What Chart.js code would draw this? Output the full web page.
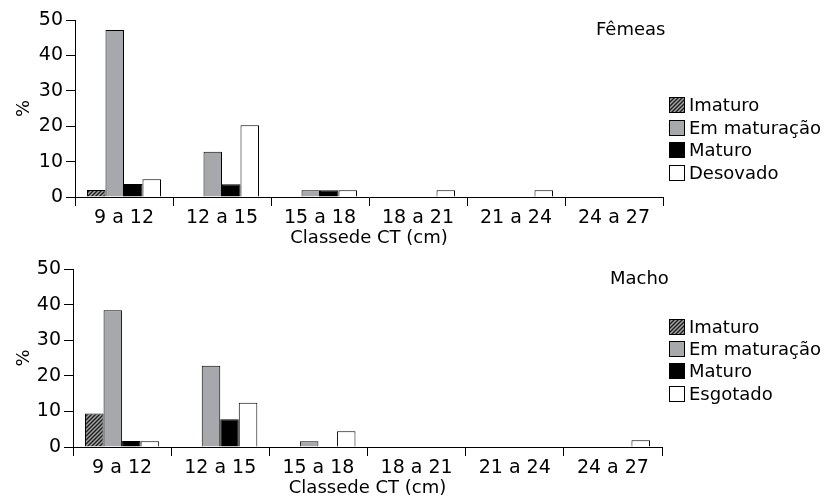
<!DOCTYPE html>
<html>
<head>
<meta charset="utf-8">
<script src="https://cdn.jsdelivr.net/npm/chart.js@4"></script>
<style>
  body { margin: 0; background: #fff; font-family: "DejaVu Sans", sans-serif; color: #000; }
  .panel { position: absolute; left: 0; width: 838px; height: 250px; }
  .panel canvas { position: absolute; left: 0; top: 0; }
  .title { position: absolute; font-size: 18px; line-height: 18px; white-space: nowrap; }
  .key { position: absolute; left: 669px; height: 16px; width: 160px; }
  .sw { position: absolute; left: 0; top: -1px; width: 14px; height: 14px; border: 1px solid #000; }
  .lab { position: absolute; left: 20px; top: -3px; font-size: 18px; line-height: 20px; white-space: nowrap; }
</style>
</head>
<body>
<div class="panel" id="p1" style="top:0"><canvas id="c1" width="838" height="250"></canvas></div>
<div class="panel" id="p2" style="top:250px"><canvas id="c2" width="838" height="250"></canvas></div>
<script>
// Length classes (CT, cm) and y-axis ticks (%)
const classes = ['9 a 12', '12 a 15', '15 a 18', '18 a 21', '21 a 24', '24 a 27'];
const yTicks = [0, 10, 20, 30, 40, 50];

// Females: maturity stage frequencies (%)
const femImaturo    = [2.0, 0, 0, 0, 0, 0];
const femMaturacao  = [47.2, 12.8, 1.9, 0, 0, 0];
const femMaturo     = [3.7, 3.6, 1.9, 0, 0, 0];
const femDesovado   = [5.0, 20.3, 1.9, 1.9, 1.9, 0];

// Males: maturity stage frequencies (%)
const macImaturo    = [9.4, 0, 0, 0, 0, 0];
const macMaturacao  = [38.4, 22.8, 1.6, 0, 0, 0];
const macMaturo     = [1.7, 7.8, 0, 0, 0, 0];
const macEsgotado   = [1.6, 12.4, 4.4, 0, 0, 1.9];

const FONT = '"DejaVu Sans", sans-serif';

// Diagonal hatch tile used for the "Imaturo" stage
function hatchTile() {
  const c = document.createElement('canvas');
  c.width = 4; c.height = 4;
  const g = c.getContext('2d');
  g.fillStyle = '#a4a4a4';
  g.fillRect(0, 0, 4, 4);
  g.strokeStyle = '#1c1c1c';
  g.lineWidth = 1.4;
  g.beginPath();
  g.moveTo(-1, 5); g.lineTo(5, -1);
  g.moveTo(-1, 1); g.lineTo(1, -1);
  g.moveTo(3, 5); g.lineTo(5, 3);
  g.stroke();
  return c;
}
const tile = hatchTile();
const tileUrl = tile.toDataURL();

function makePanel(canvasId, panelId, title, titlePos, names, series, axisLeft, axisRight, plotTop, keyTops) {
  const canvas = document.getElementById(canvasId);
  const ctx = canvas.getContext('2d');
  const hatch = ctx.createPattern(tile, 'repeat');
  const fills = [hatch, '#a7a8ab', '#000000', '#ffffff'];

  new Chart(ctx, {
    type: 'bar',
    data: {
      labels: classes,
      datasets: series.map((vals, i) => ({
        label: names[i],
        data: vals,
        backgroundColor: fills[i],
        borderColor: '#000',
        borderWidth: 1,
        categoryPercentage: 0.755,
        barPercentage: 1.0
      }))
    },
    options: {
      responsive: false,
      animation: false,
      devicePixelRatio: 1,
      layout: { padding: { left: 0, right: 838 - axisRight, top: plotTop, bottom: 0 } },
      plugins: { legend: { display: false }, tooltip: { enabled: false } },
      scales: {
        x: {
          afterFit: s => { s.height = 53; },
          grid: { display: true, drawOnChartArea: false, drawTicks: true, tickLength: 9, color: '#000', lineWidth: 1, offset: true },
          border: { display: true, color: '#000', width: 1 },
          ticks: { color: '#000', font: { family: FONT, size: 19 }, padding: 1, maxRotation: 0, autoSkip: false },
          title: { display: true, text: 'Classede CT (cm)', color: '#000', font: { family: FONT, size: 18 }, padding: { top: 0, bottom: 1 } }
        },
        y: {
          min: 0, max: 50,
          afterFit: s => { s.width = axisLeft; },
          afterBuildTicks: s => { s.ticks = yTicks.map(v => ({ value: v })); },
          grid: { display: true, drawOnChartArea: false, drawTicks: true, tickLength: 9, color: '#000', lineWidth: 1 },
          border: { display: true, color: '#000', width: 1 },
          ticks: { color: '#000', font: { family: FONT, size: 19 }, padding: 3 },
          title: { display: true, text: '%', color: '#000', font: { family: FONT, size: 18 }, padding: { top: 14, bottom: 0 } }
        }
      }
    }
  });

  // Panel title and stage key
  const panel = document.getElementById(panelId);
  const t = document.createElement('div');
  t.className = 'title';
  t.textContent = title;
  t.style.left = titlePos[0] + 'px';
  t.style.top = titlePos[1] + 'px';
  panel.appendChild(t);

  names.forEach((name, i) => {
    const k = document.createElement('div');
    k.className = 'key';
    k.style.top = keyTops[i] + 'px';
    const sw = document.createElement('div');
    sw.className = 'sw';
    if (i === 0) sw.style.backgroundImage = 'url(' + tileUrl + ')';
    else sw.style.background = ['', '#a7a8ab', '#000000', '#ffffff'][i];
    const lab = document.createElement('div');
    lab.className = 'lab';
    lab.textContent = name;
    k.appendChild(sw);
    k.appendChild(lab);
    panel.appendChild(k);
  });
}

makePanel('c1', 'p1', 'Fêmeas', [596, 20],
  ['Imaturo', 'Em maturação', 'Maturo', 'Desovado'],
  [femImaturo, femMaturacao, femMaturo, femDesovado],
  75, 663, 20, [98, 121, 143, 166]);

makePanel('c2', 'p2', 'Macho', [610, 19],
  ['Imaturo', 'Em maturação', 'Maturo', 'Esgotado'],
  [macImaturo, macMaturacao, macMaturo, macEsgotado],
  73, 662, 19, [70, 92, 114, 137]);
</script>
</body>
</html>
